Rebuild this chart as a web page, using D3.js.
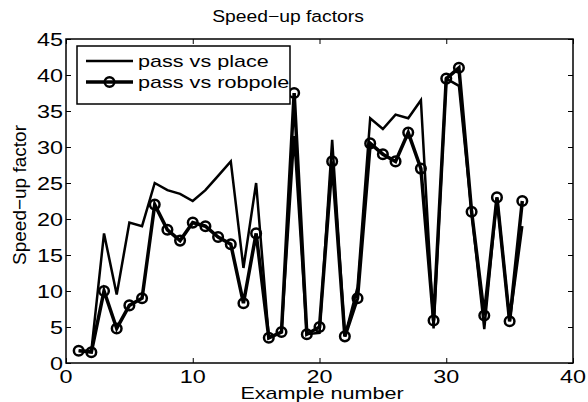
<!DOCTYPE html>
<html><head><meta charset="utf-8">
<script src="https://cdn.jsdelivr.net/npm/d3@7"></script>
<style>body{margin:0;background:#fff}svg{display:block}text{font-family:"Liberation Sans",Arial,Helvetica,sans-serif;fill:#000}</style>
</head><body>
<svg id="c" width="588" height="402"></svg>
<script>
const examples = d3.range(1, 37);
const passVsPlace = [1.7,1.7,18,9.5,19.5,19,25,24,23.5,22.5,24,26,28,13.2,25,3.5,4.3,31.5,4,4.2,31,3.7,10.5,34,32.5,34.5,34,36.5,4.8,39.5,38.5,21,4.7,23,5.8,19];
const passVsRobpole = [1.7,1.5,10,4.8,8,9,22,18.5,17,19.5,19,17.5,16.5,8.3,18,3.5,4.3,37.5,4,5,28,3.7,9,30.5,29,28,32,27,5.9,39.5,41,21,6.6,23,5.8,22.5];
const xTicks = [0,10,20,30,40];
const yTicks = [0,5,10,15,20,25,30,35,40,45];
const seriesNames = ["pass vs place","pass vs robpole"];
const titleText = "Speed\u2212up factors";
const xLabel = "Example number";
const yLabel = "Speed\u2212up factor";

const svg = d3.select("#c");
const L=66,R=573,T=39,B=363;
const x = d3.scaleLinear().domain([0,40]).range([L,R]);
const y = d3.scaleLinear().domain([0,45]).range([B,T]);

function stext(g, tx, ty, str, anchor, fs, sx, rot){
  return g.append("text").attr("transform",`translate(${tx},${ty}) scale(${sx},1)` + (rot?` rotate(${rot})`:""))
    .attr("text-anchor",anchor||"start").attr("font-size",fs).text(str);
}

// axes box
svg.append("rect").attr("x",L).attr("y",T).attr("width",R-L).attr("height",B-T)
  .attr("fill","none").attr("stroke","#000").attr("stroke-width",1.5);

// ticks via d3 axes (inward)
const gb = svg.append("g").attr("transform",`translate(0,${B})`).call(d3.axisBottom(x).tickValues(xTicks).tickSize(-5).tickFormat(""));
const gt = svg.append("g").attr("transform",`translate(0,${T})`).call(d3.axisTop(x).tickValues(xTicks).tickSize(-5).tickFormat(""));
const gl = svg.append("g").attr("transform",`translate(${L},0)`).call(d3.axisLeft(y).tickValues(yTicks).tickSize(-5).tickFormat(""));
const gr = svg.append("g").attr("transform",`translate(${R},0)`).call(d3.axisRight(y).tickValues(yTicks).tickSize(-5).tickFormat(""));
[gb,gt,gl,gr].forEach(g=>{g.select(".domain").remove();g.selectAll("line").attr("stroke","#000").attr("stroke-width",1);});

// tick labels
xTicks.forEach(v=>stext(svg, x(v), B+19.5, String(v), "middle", 18, 1.3));
yTicks.forEach(v=>stext(svg, L-3, y(v)+6.5, String(v), "end", 18, 1.3));

// titles
stext(svg, 288, 21.5, titleText, "middle", 16.5, 1.17);
stext(svg, 322, 398.5, xLabel, "middle", 16, 1.35);
stext(svg, 26, 195, yLabel, "middle", 19, 1.0, -90);

// lines
const line = d3.line().x((d,i)=>x(examples[i])).y(d=>y(d));
svg.append("path").datum(passVsPlace).attr("d",line).attr("fill","none").attr("stroke","#000").attr("stroke-width",2.5).attr("stroke-linejoin","miter");
svg.append("path").datum(passVsRobpole).attr("d",line).attr("fill","none").attr("stroke","#000").attr("stroke-width",3.5).attr("stroke-linejoin","miter");
svg.append("g").selectAll("circle").data(passVsRobpole).join("circle")
  .attr("cx",(d,i)=>x(examples[i])).attr("cy",d=>y(d)).attr("r",4.8)
  .attr("fill","none").attr("stroke","#000").attr("stroke-width",2.5);

// legend
const lg = svg.append("g");
lg.append("rect").attr("x",77).attr("y",46).attr("width",213).attr("height",58).attr("fill","#fff").attr("stroke","#000").attr("stroke-width",1.5);
lg.append("line").attr("x1",86).attr("x2",133).attr("y1",61).attr("y2",61).attr("stroke","#000").attr("stroke-width",2.5);
lg.append("line").attr("x1",86).attr("x2",133).attr("y1",82).attr("y2",82).attr("stroke","#000").attr("stroke-width",3.5);
lg.append("circle").attr("cx",109.5).attr("cy",82).attr("r",4.8).attr("fill","none").attr("stroke","#000").attr("stroke-width",2.5);
stext(lg, 138, 66.5, seriesNames[0], "start", 16, 1.35);
stext(lg, 138, 87.5, seriesNames[1], "start", 16, 1.35);
</script>
</body></html>
